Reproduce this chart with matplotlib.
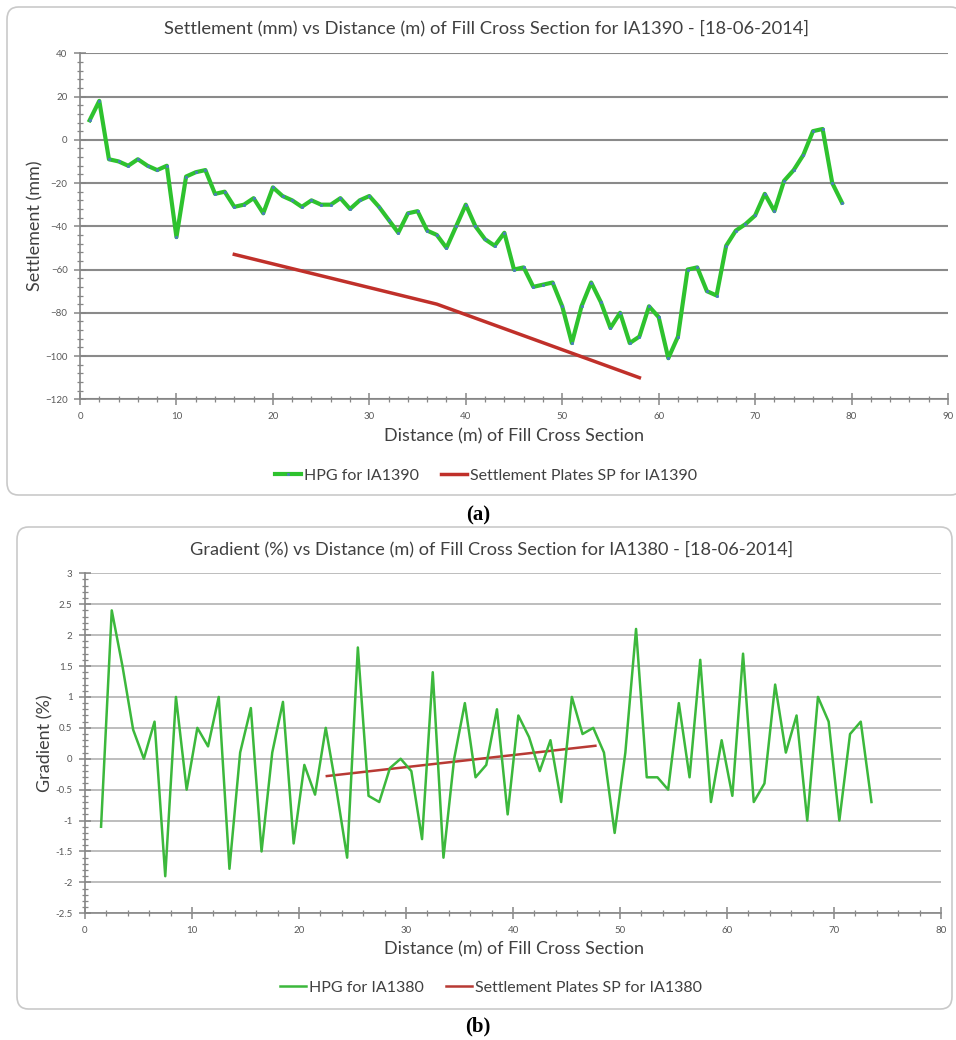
import numpy as np
import matplotlib
matplotlib.use("Agg")
import matplotlib.pyplot as plt
from matplotlib.patches import FancyBboxPatch
from matplotlib.ticker import MultipleLocator

plt.rcParams['font.family'] = ['Lato', 'DejaVu Sans']

# panel (a): settlement
dist_a = list(range(1, 80))
hpg_a = [9, 18, -9, -10, -12, -9, -12, -14, -12, -45,
         -17, -15, -14, -25, -24, -31, -30, -27, -34, -22,
         -26, -28, -31, -28, -30, -30, -27, -32, -28, -26,
         -31, -37, -43, -34, -33, -42, -44, -50, -40, -30,
         -40, -46, -49, -43, -60, -59, -68, -67, -66, -77,
         -94, -77, -66, -75, -87, -80, -94, -91, -77, -82,
         -101, -91, -60, -59, -70, -72, -49, -42, -39, -35,
         -25, -33, -19, -14, -7, 4, 5, -20, -29]
sp_dist_a = [16, 37, 58]
sp_a = [-53, -76, -110]

# panel (b): gradient
dist_b = [i + 0.5 for i in range(1, 74)]
hpg_b = [-1.1, 2.4, 1.5, 0.47, 0.0, 0.6, -1.9, 1.0, -0.5, 0.5,
         0.2, 1.0, -1.78, 0.1, 0.82, -1.5, 0.1, 0.92, -1.37, -0.1,
         -0.58, 0.5, -0.5, -1.6, 1.8, -0.6, -0.7, -0.15, 0.0, -0.2,
         -1.3, 1.4, -1.6, 0.0, 0.9, -0.3, -0.1, 0.8, -0.9, 0.7,
         0.35, -0.2, 0.3, -0.7, 1.0, 0.4, 0.5, 0.1, -1.2, 0.1,
         2.1, -0.3, -0.3, -0.5, 0.9, -0.3, 1.6, -0.7, 0.3, -0.6,
         1.7, -0.7, -0.4, 1.2, 0.1, 0.7, -1.0, 1.0, 0.6, -1.0,
         0.4, 0.6, -0.7]
sp_dist_b = [22.6, 47.7]
sp_b = [-0.28, 0.21]

W, H = 956, 1040
fig = plt.figure(figsize=(W / 100, H / 100), dpi=100)


def fx(px):
    return px / W


def fy(py):
    return 1 - py / H


def caja(x0, y0, x1, y1):
    # marco redondeado estilo Excel
    p = FancyBboxPatch((fx(x0), fy(y1)), fx(x1) - fx(x0), fy(y0) - fy(y1),
                       boxstyle="round,pad=0,rounding_size=0.012",
                       transform=fig.transFigure, facecolor='white',
                       edgecolor='#c9c9c9', linewidth=1.2, zorder=-5)
    fig.patches.append(p)


def estilo_ejes(ax, grid_color, grid_lw):
    for s in ['top', 'right']:
        ax.spines[s].set_visible(False)
    for s in ['left', 'bottom']:
        ax.spines[s].set_color('#868686')
        ax.spines[s].set_linewidth(1.2)
    ax.tick_params(which='major', direction='inout', length=8, width=1.1,
                   color='#868686', labelsize=7, labelcolor='#595959', pad=5)
    ax.tick_params(which='minor', direction='inout', length=5, width=0.9,
                   color='#868686')
    ax.yaxis.grid(True, which='major', color=grid_color, linewidth=grid_lw)
    ax.set_axisbelow(True)


caja(7, 7, 962, 495)
caja(17, 527, 952, 1009)

# ----- panel (a)
ax1 = fig.add_axes([fx(80), fy(399.3), fx(948) - fx(80), fy(53.3) - fy(399.3)])
ax1.plot(dist_a, hpg_a, color='#2ec22e', linewidth=3.0, marker='s',
         markersize=1.1, markerfacecolor='#4a7ebb', markeredgecolor='#4a7ebb',
         label='HPG for IA1390', zorder=3)
ax1.plot(sp_dist_a, sp_a, color='#c0302a', linewidth=2.5,
         label='Settlement Plates SP for IA1390', zorder=2)
ax1.set_xlim(0, 90)
ax1.set_ylim(-120, 40)
ax1.xaxis.set_major_locator(MultipleLocator(10))
ax1.xaxis.set_minor_locator(MultipleLocator(2))
ax1.yaxis.set_major_locator(MultipleLocator(20))
ax1.yaxis.set_minor_locator(MultipleLocator(4))
estilo_ejes(ax1, '#8a8a8a', 1.5)
ax1.set_facecolor('none')
fig.text(fx(487), fy(28), 'Settlement (mm) vs Distance (m) of Fill Cross Section for IA1390 - [18-06-2014]',
         ha='center', va='center', fontsize=13.2, color='#404040')
fig.text(fx(35), fy(226), 'Settlement (mm)', rotation=90, ha='center', va='center',
         fontsize=13, color='#404040')
fig.text(fx(514), fy(436), 'Distance (m) of Fill Cross Section', ha='center', va='center',
         fontsize=13, color='#404040')
fig.legend(*ax1.get_legend_handles_labels(), loc='center', bbox_to_anchor=(fx(486), fy(476)),
           ncol=2, frameon=False, fontsize=11.5, handlelength=1.6, handletextpad=0.2,
           columnspacing=1.4, labelcolor='#404040')
fig.text(fx(478), fy(515), '(a)', ha='center', va='center', fontsize=15,
         fontweight='bold', family='Liberation Serif')

# ----- panel (b)
ax2 = fig.add_axes([fx(85), fy(913.3), fx(941) - fx(85), fy(573.3) - fy(913.3)])
ax2.plot(dist_b, hpg_b, color='#3cb83c', linewidth=1.8,
         label='HPG for IA1380', zorder=3)
ax2.plot(sp_dist_b, sp_b, color='#b83a34', linewidth=1.8,
         label='Settlement Plates SP for IA1380', zorder=2)
ax2.set_xlim(0, 80)
ax2.set_ylim(-2.5, 3)
ax2.xaxis.set_major_locator(MultipleLocator(10))
ax2.xaxis.set_minor_locator(MultipleLocator(2))
ax2.yaxis.set_major_locator(MultipleLocator(0.5))
ax2.yaxis.set_minor_locator(MultipleLocator(0.1))
ax2.set_yticks(np.arange(-2.5, 3.01, 0.5))
ax2.set_yticklabels(['-2.5', '-2', '-1.5', '-1', '-0.5', '0', '0.5', '1', '1.5', '2', '2.5', '3'])
estilo_ejes(ax2, '#bdbdbd', 1.4)
ax2.set_facecolor('none')
fig.text(fx(492), fy(549), 'Gradient (%) vs Distance (m) of Fill Cross Section for IA1380 - [18-06-2014]',
         ha='center', va='center', fontsize=13.1, color='#404040')
fig.text(fx(45), fy(743), 'Gradient (%)', rotation=90, ha='center', va='center',
         fontsize=13, color='#404040')
fig.text(fx(514), fy(949), 'Distance (m) of Fill Cross Section', ha='center', va='center',
         fontsize=13, color='#404040')
fig.legend(*ax2.get_legend_handles_labels(), loc='center', bbox_to_anchor=(fx(491), fy(988)),
           ncol=2, frameon=False, fontsize=11.5, handlelength=1.6, handletextpad=0.2,
           columnspacing=1.4, labelcolor='#404040')
fig.text(fx(478), fy(1026), '(b)', ha='center', va='center', fontsize=15,
         fontweight='bold', family='Liberation Serif')

fig.savefig('out.png', dpi=100)
